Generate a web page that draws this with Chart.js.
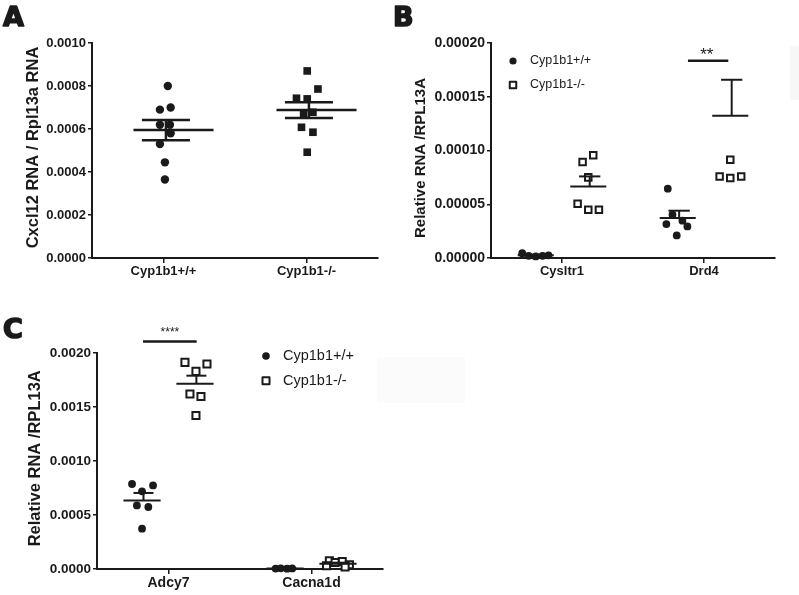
<!DOCTYPE html>
<html>
<head>
<meta charset="utf-8">
<title>Cyp1b1 RNA panels</title>
<script src="https://cdn.jsdelivr.net/npm/chart.js@4.4.1/dist/chart.umd.min.js"></script>
<style>
  html, body { margin: 0; padding: 0; background: #fff; }
  #page { position: relative; width: 799px; height: 595px; overflow: hidden; }
  canvas { position: absolute; }
  .smudge { position: absolute; background: #f7f7f7; }
</style>
</head>
<body>
<div id="page">
  <div class="smudge" style="left:790px;top:46px;width:9px;height:54px"></div>
  <div class="smudge" style="left:377px;top:357px;width:88px;height:46px;background:#fbfbfb"></div>
  <canvas id="chartA" width="400" height="300" style="left:0;top:0"></canvas>
  <canvas id="chartB" width="409" height="300" style="left:390px;top:0"></canvas>
  <canvas id="chartC" width="480" height="295" style="left:0;top:300px"></canvas>
</div>
<script>
// ---- panel A : Cxcl12 ----
const catsA = ['Cyp1b1+/+', 'Cyp1b1-/-'];
const ticksA = [0, 0.0002, 0.0004, 0.0006, 0.0008, 0.0010];
const wtA = [0.00080, 0.00069, 0.00070, 0.00062, 0.00062, 0.00058, 0.00053, 0.000445, 0.000365];
const wtAJit = [0.03, -0.025, 0.05, -0.025, 0.045, 0.05, -0.025, 0.01, 0.01];
const koA = [0.00087, 0.000786, 0.000743, 0.00074, 0.000673, 0.000678, 0.000608, 0.000585, 0.000492];
const koAJit = [0.005, 0.08, -0.07, 0.005, -0.02, 0.045, -0.035, 0.045, 0.005];
const meanA = [0.000595, 0.000688];
const semA = [0.000047, 0.000037];

// ---- panel B : Cysltr1 / Drd4 ----
const catsB = ['Cysltr1', 'Drd4'];
const ticksB = [0, 0.00005, 0.00010, 0.00015, 0.00020];
const wtB = [[0.0000045, 0.000002, 0.0000015, 0.000002, 0.0000025],
             [0.0000645, 0.0000403, 0.0000316, 0.0000347, 0.0000294, 0.000021]];
const wtBJit = [[-0.095, -0.05, 0, 0.048, 0.09], [-0.07, -0.037, -0.08, 0.033, 0.068, -0.007]];
const koB = [[0.0000893, 0.0000955, 0.000075, 0.0000505, 0.0000449, 0.0000449],
             [0.0000914, 0.0000759, 0.0000744, 0.0000759]];
const koBJit = [[-0.04, 0.035, 0, -0.075, 0, 0.075], [0, -0.075, 0, 0.077]];
const wtBMean = [0.0000025, 0.0000372];
const wtBSem = [0.0000006, 0.0000068];
const koBMean = [0.0000666, 0.0001324];
const koBSem = [0.0000093, 0.0000334];

// ---- panel C : Adcy7 / Cacna1d ----
const catsC = ['Adcy7', 'Cacna1d'];
const ticksC = [0, 0.0005, 0.0010, 0.0015, 0.0020];
const wtC = [[0.000787, 0.000774, 0.000719, 0.000589, 0.000574, 0.000373],
             [0.000004, 0.000006, 0.000003, 0.000005]];
const wtCJit = [[-0.07, 0.077, 0, -0.036, 0.044, 0], [-0.066, -0.03, 0.014, 0.05]];
const koC = [[0.001913, 0.001898, 0.00183, 0.00162, 0.001598, 0.001422],
             [0.000075, 0.00007, 0.00006, 0.00004, 0.00003, 0.00002]];
const koCJit = [[-0.07, 0.084, 0.007, -0.035, 0.042, 0.007], [-0.06, 0.03, -0.02, 0.08, -0.08, 0.05]];
const wtCMean = [0.000635, 0.0000045];
const wtCSem = [0.000069, 0.000001];
const koCMean = [0.001716, 0.000049];
const koCSem = [0.000074, 0.0000095];

const INK = '#1a1a1a';
const FONT = '"Liberation Sans", Arial, Helvetica, sans-serif';
const GROUP = 0.185; // +/+ left of the tick, -/- right of it

function pts(vals, jit, cat, off) {
    return vals.map((v, j) => ({ x: cat + off + jit[j], y: v }));
}
function dots(data, r) {
    return { data, pointStyle: 'circle', pointRadius: r, backgroundColor: INK, borderWidth: 0, clip: false };
}
function squares(data, r, open) {
    return { data, pointStyle: 'rect', pointRadius: r, backgroundColor: open ? '#fff' : INK,
             borderColor: INK, borderWidth: open ? 2 : 0, clip: false };
}
function seg(ctx, x1, y1, x2, y2) {
    ctx.beginPath(); ctx.moveTo(x1, y1); ctx.lineTo(x2, y2); ctx.stroke();
}

// mean/SEM lines, significance bars, legend, axis title, panel letter
function overlay(p) {
    return {
        id: 'overlay',
        afterDatasetsDraw(chart) {
            const ctx = chart.ctx, xs = chart.scales.x, ys = chart.scales.y;
            const m = p.marks;
            ctx.save();
            ctx.strokeStyle = INK;
            ctx.lineWidth = m.lw;
            p.groups.forEach(g => {
                const yM = ys.getPixelForValue(g.mean);
                const yU = ys.getPixelForValue(g.mean + g.sem);
                const yL = ys.getPixelForValue(g.mean - g.sem);
                const cm = g.x + m.meanShift, cc = g.x + m.capShift;
                seg(ctx, xs.getPixelForValue(cm - m.meanHalf), yM, xs.getPixelForValue(cm + m.meanHalf), yM);
                const xc = xs.getPixelForValue(cc);
                const c1 = xs.getPixelForValue(cc - m.capHalf), c2 = xs.getPixelForValue(cc + m.capHalf);
                seg(ctx, c1, yU, c2, yU);
                seg(ctx, xc, yU, xc, m.both ? yL : yM);
                if (m.both) seg(ctx, c1, yL, c2, yL);
            });
            (p.sig || []).forEach(s => {
                const y = ys.getPixelForValue(s.y);
                ctx.lineWidth = 2.5;
                seg(ctx, xs.getPixelForValue(s.from), y, xs.getPixelForValue(s.to), y);
                ctx.fillStyle = INK;
                ctx.font = s.size + 'px ' + FONT;
                ctx.textAlign = 'center';
                ctx.textBaseline = 'alphabetic';
                ctx.fillText(s.label, xs.getPixelForValue(s.at), y - s.gap);
            });
            ctx.restore();
        },
        afterDraw(chart) {
            const ctx = chart.ctx;
            ctx.save();
            ctx.fillStyle = INK;
            ctx.strokeStyle = INK;
            // panel letter, stroked a little to get the heavy look
            ctx.font = 'bold 27px "DejaVu Sans", ' + FONT;
            ctx.textAlign = 'left';
            ctx.textBaseline = 'alphabetic';
            ctx.lineWidth = 1.6;
            ctx.lineJoin = 'round';
            ctx.fillText(p.letter, p.letterPos[0], p.letterPos[1]);
            ctx.strokeText(p.letter, p.letterPos[0], p.letterPos[1]);
            // y axis title
            ctx.save();
            ctx.translate(p.titlePos[0], p.titlePos[1]);
            ctx.rotate(-Math.PI / 2);
            ctx.font = 'bold ' + p.titleSize + 'px ' + FONT;
            ctx.textAlign = 'center';
            ctx.textBaseline = 'middle';
            ctx.fillText(p.title, 0, 0);
            ctx.restore();
            // legend
            if (p.legend) {
                const L = p.legend;
                ctx.font = L.size + 'px ' + FONT;
                ctx.textAlign = 'left';
                ctx.textBaseline = 'middle';
                ctx.beginPath();
                ctx.arc(L.x, L.y1, L.r, 0, Math.PI * 2);
                ctx.fill();
                ctx.lineWidth = 2;
                ctx.strokeRect(L.x - L.sq / 2, L.y2 - L.sq / 2, L.sq, L.sq);
                ctx.fillText('Cyp1b1+/+', L.tx, L.y1);
                ctx.fillText('Cyp1b1-/-', L.tx, L.y2);
            }
            ctx.restore();
        }
    };
}

function buildPanel(id, p) {
    const el = document.getElementById(id);
    return new Chart(el, {
        type: 'scatter',
        data: { datasets: p.datasets },
        options: {
            responsive: false,
            animation: false,
            events: [],
            layout: { padding: { left: 0, top: p.area.top, right: el.width - p.area.right, bottom: 0 } },
            plugins: { legend: { display: false }, tooltip: { enabled: false } },
            scales: {
                x: {
                    type: 'linear', min: -0.5, max: 1.5,
                    afterBuildTicks: s => { s.ticks = p.cats.map((c, i) => ({ value: i })); },
                    afterFit: s => { s.height = el.height - p.area.bottom; },
                    ticks: {
                        callback: v => p.cats[v], color: INK, padding: 1, maxRotation: 0, autoSkip: false,
                        font: { family: FONT, weight: 'bold', size: p.catSize }
                    },
                    grid: { drawOnChartArea: false, tickLength: 5, color: INK, lineWidth: 1.5 },
                    border: { color: INK, width: 2 }
                },
                y: {
                    min: 0, max: p.yTicks[p.yTicks.length - 1],
                    afterBuildTicks: s => { s.ticks = p.yTicks.map(v => ({ value: v })); },
                    afterFit: s => { s.width = p.area.left; },
                    ticks: {
                        callback: v => v.toFixed(p.dec), color: INK, padding: 2,
                        font: { family: FONT, weight: 'bold', size: p.tickSize }
                    },
                    grid: { drawOnChartArea: false, tickLength: 4, color: INK, lineWidth: 1.5 },
                    border: { color: INK, width: 2 }
                }
            }
        },
        plugins: [overlay(p)]
    });
}

buildPanel('chartA', {
    cats: catsA, yTicks: ticksA, dec: 4, tickSize: 13, catSize: 13,
    area: { left: 92, right: 378, top: 43, bottom: 258 },
    datasets: [dots(pts(wtA, wtAJit, 0, 0), 4.2), squares(pts(koA, koAJit, 1, 0), 5.4, false)],
    groups: [{ x: 0, mean: meanA[0], sem: semA[0] }, { x: 1, mean: meanA[1], sem: semA[1] }],
    marks: { lw: 2.5, meanHalf: 0.28, meanShift: 0.07, capHalf: 0.168, capShift: 0.017, both: true },
    letter: 'A', letterPos: [3, 26],
    title: 'Cxcl12 RNA / Rpl13a RNA', titleSize: 16.5, titlePos: [33, 147.5]
});

buildPanel('chartB', {
    cats: catsB, yTicks: ticksB, dec: 5, tickSize: 14, catSize: 13,
    area: { left: 101, right: 385, top: 43, bottom: 258 },
    datasets: [
        dots(pts(wtB[0], wtBJit[0], 0, -GROUP).concat(pts(wtB[1], wtBJit[1], 1, -GROUP)), 3.9),
        squares(pts(koB[0], koBJit[0], 0, GROUP).concat(pts(koB[1], koBJit[1], 1, GROUP)), 4.6, true)
    ],
    groups: [
        { x: -GROUP, mean: wtBMean[0], sem: wtBSem[0] }, { x: 1 - GROUP, mean: wtBMean[1], sem: wtBSem[1] },
        { x: GROUP, mean: koBMean[0], sem: koBSem[0] }, { x: 1 + GROUP, mean: koBMean[1], sem: koBSem[1] }
    ],
    marks: { lw: 2, meanHalf: 0.127, meanShift: 0, capHalf: 0.075, capShift: 0.01, both: false },
    sig: [{ label: '**', y: 0.0001835, from: 0.887, to: 1.171, at: 1.02, size: 17, gap: 1 }],
    legend: { x: 123, y1: 61, y2: 85, r: 3.6, sq: 6.5, tx: 140, size: 12.5 },
    letter: 'B', letterPos: [3, 26],
    title: 'Relative RNA /RPL13A', titleSize: 15, titlePos: [30.7, 158]
});

buildPanel('chartC', {
    cats: catsC, yTicks: ticksC, dec: 4, tickSize: 13.5, catSize: 14,
    area: { left: 97, right: 383, top: 53, bottom: 269 },
    datasets: [
        dots(pts(wtC[0], wtCJit[0], 0, -GROUP).concat(pts(wtC[1], wtCJit[1], 1, -GROUP)), 3.9),
        squares(pts(koC[0], koCJit[0], 0, GROUP).concat(pts(koC[1], koCJit[1], 1, GROUP)), 5, true)
    ],
    groups: [
        { x: -GROUP, mean: wtCMean[0], sem: wtCSem[0] }, { x: 1 - GROUP, mean: wtCMean[1], sem: wtCSem[1] },
        { x: GROUP, mean: koCMean[0], sem: koCSem[0] }, { x: 1 + GROUP, mean: koCMean[1], sem: koCSem[1] }
    ],
    marks: { lw: 2, meanHalf: 0.13, meanShift: 0, capHalf: 0.07, capShift: 0.01, both: false },
    sig: [{ label: '****', y: 0.002107, from: -0.178, to: 0.197, at: 0.01, size: 12, gap: 5 }],
    legend: { x: 266, y1: 56, y2: 80.7, r: 3.8, sq: 7, tx: 283, size: 14.5 },
    letter: 'C', letterPos: [3, 38],
    title: 'Relative RNA /RPL13A', titleSize: 16.5, titlePos: [35, 158.3]
});
</script>
</body>
</html>
